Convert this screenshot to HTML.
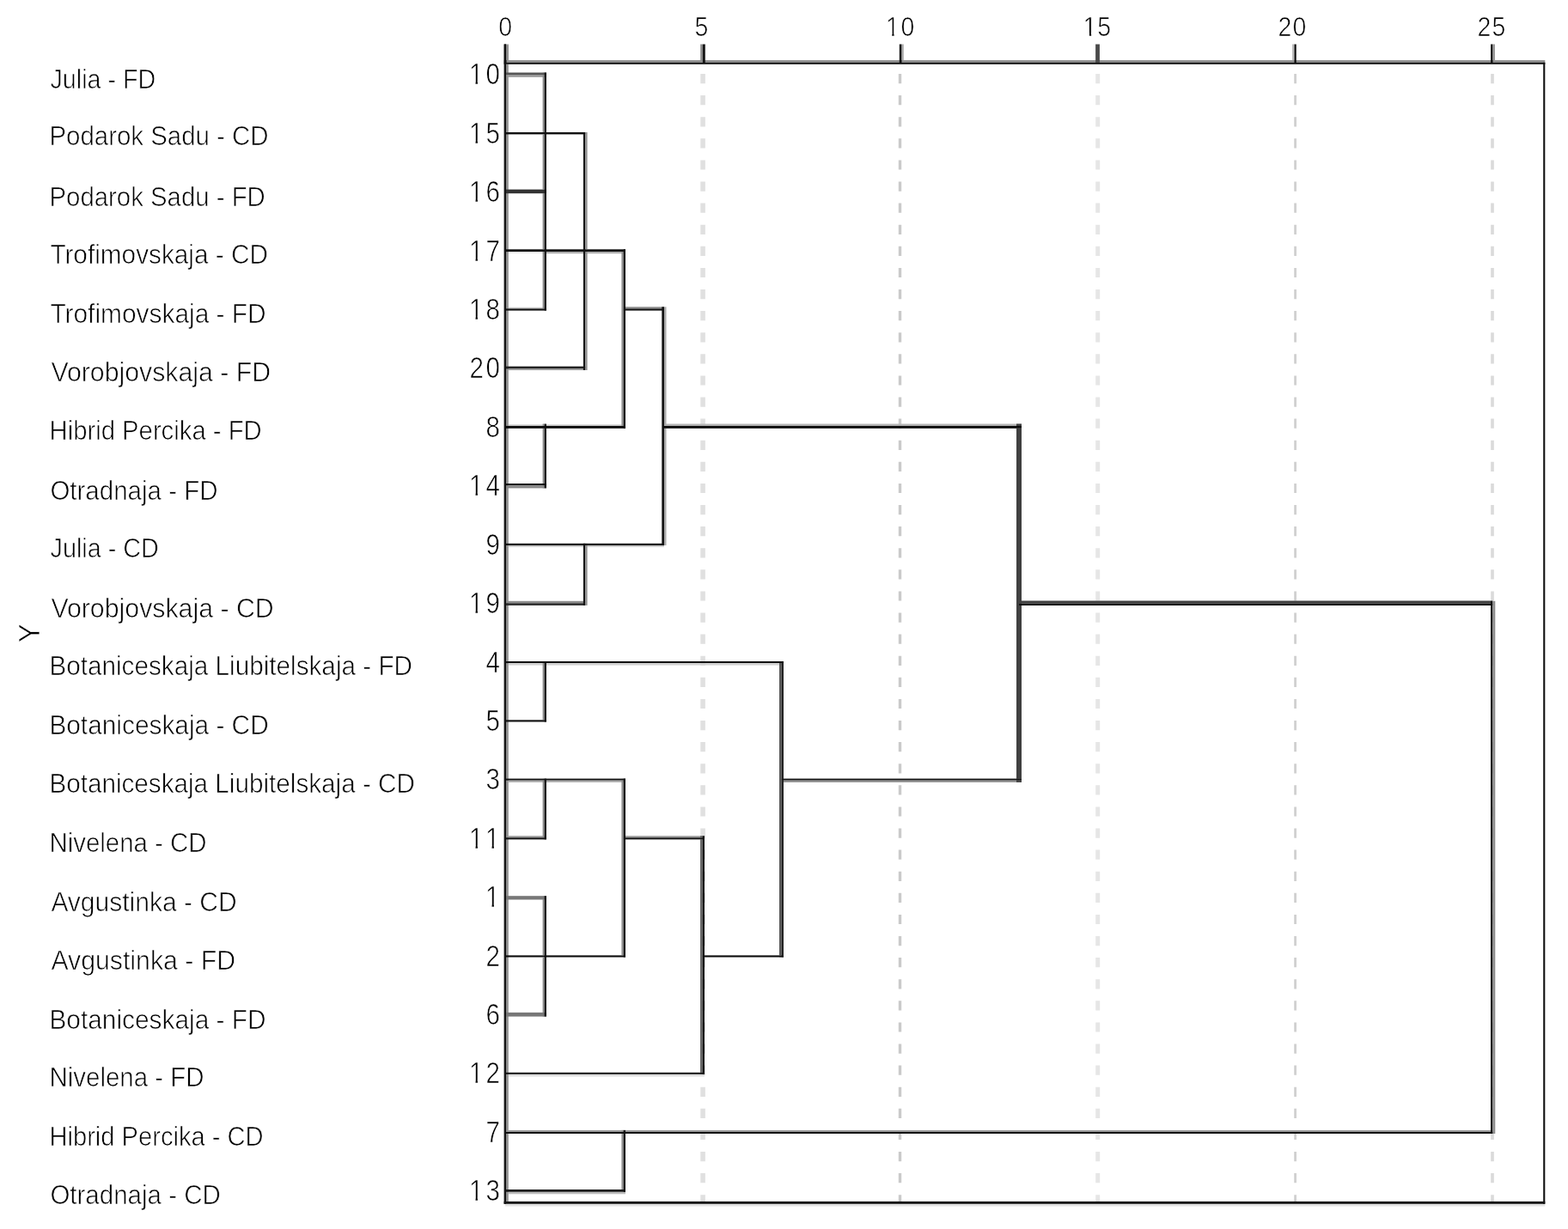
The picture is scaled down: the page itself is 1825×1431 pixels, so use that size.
<!DOCTYPE html><html><head><meta charset="utf-8"><title>Dendrogram</title><style>html,body{margin:0;padding:0;background:#fff;overflow:hidden}svg{display:block}g.d rect{mix-blend-mode:darken}text{font-family:"Liberation Sans",Arial,sans-serif;fill:#000;stroke:#fff;stroke-width:0.7px}</style></head><body>
<svg width="1825" height="1431" viewBox="0 0 1825 1431">
<rect width="1825" height="1431" fill="#fff"/>
<defs><clipPath id="c0" clipPathUnits="userSpaceOnUse"><rect x="1086.50" y="-61.20" width="79.96" height="57.68"/><rect x="1116.45" y="-6.12" width="2.39" height="12.24"/><rect x="1126.68" y="-6.12" width="18.36" height="12.24"/></clipPath><clipPath id="c1" clipPathUnits="userSpaceOnUse"><rect x="1333.38" y="-61.20" width="79.10" height="57.68"/><rect x="1363.34" y="-6.12" width="2.39" height="12.24"/><rect x="1372.70" y="-6.12" width="18.36" height="12.24"/></clipPath><clipPath id="c2" clipPathUnits="userSpaceOnUse"><rect x="610.12" y="-68.60" width="91.39" height="64.66"/><rect x="643.70" y="-6.86" width="2.68" height="13.72"/><rect x="656.92" y="-6.86" width="20.58" height="13.72"/></clipPath><clipPath id="c3" clipPathUnits="userSpaceOnUse"><rect x="610.12" y="-68.60" width="91.39" height="64.66"/><rect x="643.70" y="-6.86" width="2.68" height="13.72"/><rect x="656.92" y="-6.86" width="20.58" height="13.72"/></clipPath><clipPath id="c4" clipPathUnits="userSpaceOnUse"><rect x="610.12" y="-68.60" width="91.39" height="64.66"/><rect x="643.70" y="-6.86" width="2.68" height="13.72"/><rect x="656.92" y="-6.86" width="20.58" height="13.72"/></clipPath><clipPath id="c5" clipPathUnits="userSpaceOnUse"><rect x="610.12" y="-68.60" width="91.39" height="64.66"/><rect x="643.70" y="-6.86" width="2.68" height="13.72"/><rect x="656.92" y="-6.86" width="20.58" height="13.72"/></clipPath><clipPath id="c6" clipPathUnits="userSpaceOnUse"><rect x="610.12" y="-68.60" width="91.39" height="64.66"/><rect x="643.70" y="-6.86" width="2.68" height="13.72"/><rect x="656.92" y="-6.86" width="20.58" height="13.72"/></clipPath><clipPath id="c7" clipPathUnits="userSpaceOnUse"><rect x="610.12" y="-68.60" width="91.39" height="64.66"/><rect x="643.70" y="-6.86" width="2.68" height="13.72"/><rect x="656.92" y="-6.86" width="20.58" height="13.72"/></clipPath><clipPath id="c8" clipPathUnits="userSpaceOnUse"><rect x="610.12" y="-68.60" width="91.39" height="64.66"/><rect x="643.70" y="-6.86" width="2.68" height="13.72"/><rect x="656.92" y="-6.86" width="20.58" height="13.72"/></clipPath><clipPath id="c9" clipPathUnits="userSpaceOnUse"><rect x="610.12" y="-68.60" width="90.69" height="64.66"/><rect x="643.70" y="-6.86" width="2.68" height="13.72"/><rect x="665.79" y="-6.86" width="2.68" height="13.72"/></clipPath><clipPath id="c10" clipPathUnits="userSpaceOnUse"><rect x="632.21" y="-68.60" width="68.60" height="64.66"/><rect x="665.79" y="-6.86" width="2.68" height="13.72"/></clipPath><clipPath id="c11" clipPathUnits="userSpaceOnUse"><rect x="610.12" y="-68.60" width="91.39" height="64.66"/><rect x="643.70" y="-6.86" width="2.68" height="13.72"/><rect x="656.92" y="-6.86" width="20.58" height="13.72"/></clipPath><clipPath id="c12" clipPathUnits="userSpaceOnUse"><rect x="610.12" y="-68.60" width="91.39" height="64.66"/><rect x="643.70" y="-6.86" width="2.68" height="13.72"/><rect x="656.92" y="-6.86" width="20.58" height="13.72"/></clipPath></defs>
<line x1="818.10" y1="86.0" x2="818.10" y2="1399" stroke="#e0e0e0" stroke-width="5.60" stroke-dasharray="11.2 13.9"/>
<line x1="1047.50" y1="86.0" x2="1047.50" y2="1399" stroke="#cacaca" stroke-width="3.40" stroke-dasharray="11.2 13.9"/>
<line x1="1277.70" y1="86.0" x2="1277.70" y2="1399" stroke="#e6e6e6" stroke-width="5.00" stroke-dasharray="11.2 13.9"/>
<line x1="1507.60" y1="86.0" x2="1507.60" y2="1399" stroke="#d0d0d0" stroke-width="2.80" stroke-dasharray="11.2 13.9"/>
<line x1="1737.00" y1="86.0" x2="1737.00" y2="1399" stroke="#dadada" stroke-width="3.60" stroke-dasharray="11.2 13.9"/>
<g class="d">
<rect x="586.60" y="70.10" width="1211.70" height="2.70" fill="#8c8c8c"/>
<rect x="586.60" y="72.80" width="1211.70" height="2.00" fill="#111"/>
<rect x="1796.20" y="72.80" width="2.10" height="1329.00" fill="#111"/>
<rect x="586.60" y="1398.90" width="1211.70" height="2.90" fill="#151515"/>
<rect x="588.00" y="1401.80" width="1210.30" height="2.70" fill="#e2e2e2"/>
<rect x="586.80" y="51.50" width="2.70" height="21.50" fill="#111"/>
<rect x="589.50" y="51.50" width="2.50" height="21.50" fill="#999"/>
<rect x="815.20" y="51.50" width="2.70" height="21.50" fill="#8a8a8a"/>
<rect x="817.90" y="51.50" width="2.90" height="21.50" fill="#151515"/>
<rect x="1046.80" y="51.50" width="2.70" height="21.50" fill="#111"/>
<rect x="1049.50" y="51.50" width="2.30" height="21.50" fill="#aaa"/>
<rect x="1275.10" y="51.50" width="4.80" height="21.50" fill="#4a4a4a"/>
<rect x="1504.00" y="51.50" width="2.50" height="21.50" fill="#bbb"/>
<rect x="1506.50" y="51.50" width="2.20" height="21.50" fill="#0a0a0a"/>
<rect x="1735.10" y="51.50" width="2.40" height="21.50" fill="#111"/>
<rect x="1737.50" y="51.50" width="2.50" height="21.50" fill="#999"/>
<rect x="586.60" y="51.50" width="2.40" height="1350.30" fill="#151515"/>
<rect x="589.00" y="53.00" width="2.80" height="1348.80" fill="#8f8f8f"/>
<rect x="588.50" y="84.50" width="47.40" height="2.50" fill="#555"/>
<rect x="588.50" y="87.00" width="47.40" height="2.80" fill="#999"/>
<rect x="588.50" y="154.00" width="92.80" height="2.40" fill="#111"/>
<rect x="588.50" y="220.60" width="47.40" height="4.60" fill="#333"/>
<rect x="588.50" y="290.30" width="47.40" height="2.80" fill="#111"/>
<rect x="588.50" y="293.10" width="47.40" height="1.50" fill="#ddd"/>
<rect x="633.98" y="290.30" width="94.02" height="2.80" fill="#111"/>
<rect x="633.98" y="293.10" width="94.02" height="2.10" fill="#aaa"/>
<rect x="588.50" y="357.80" width="47.40" height="1.60" fill="#c8c8c8"/>
<rect x="588.50" y="359.40" width="47.40" height="2.20" fill="#111"/>
<rect x="725.94" y="357.30" width="47.06" height="2.10" fill="#8a8a8a"/>
<rect x="725.94" y="359.40" width="47.06" height="2.20" fill="#111"/>
<rect x="588.50" y="426.60" width="92.80" height="2.80" fill="#222"/>
<rect x="588.50" y="429.40" width="92.80" height="1.60" fill="#999"/>
<rect x="588.50" y="494.20" width="139.50" height="1.70" fill="#d0d0d0"/>
<rect x="588.50" y="495.90" width="139.50" height="2.90" fill="#0a0a0a"/>
<rect x="771.92" y="493.50" width="417.08" height="2.40" fill="#b4b4b4"/>
<rect x="771.92" y="495.90" width="417.08" height="2.90" fill="#0a0a0a"/>
<rect x="588.50" y="563.00" width="47.40" height="2.20" fill="#111"/>
<rect x="588.50" y="565.20" width="47.40" height="3.20" fill="#888"/>
<rect x="588.50" y="632.80" width="184.50" height="2.20" fill="#111"/>
<rect x="588.50" y="635.00" width="184.50" height="1.80" fill="#c8c8c8"/>
<rect x="588.50" y="699.80" width="92.80" height="2.50" fill="#8c8c8c"/>
<rect x="588.50" y="702.30" width="92.80" height="2.60" fill="#2a2a2a"/>
<rect x="1185.74" y="699.50" width="551.56" height="3.10" fill="#404040"/>
<rect x="1185.74" y="702.60" width="551.56" height="2.40" fill="#111"/>
<rect x="588.50" y="770.00" width="323.50" height="2.10" fill="#111"/>
<rect x="588.50" y="772.10" width="323.50" height="2.50" fill="#cfcfcf"/>
<rect x="588.50" y="838.30" width="47.40" height="2.20" fill="#151515"/>
<rect x="588.50" y="906.60" width="139.50" height="2.00" fill="#111"/>
<rect x="588.50" y="908.60" width="139.50" height="2.20" fill="#aaa"/>
<rect x="909.86" y="906.60" width="279.14" height="2.00" fill="#111"/>
<rect x="909.86" y="908.60" width="279.14" height="2.20" fill="#8c8c8c"/>
<rect x="588.50" y="973.30" width="47.40" height="2.00" fill="#999"/>
<rect x="588.50" y="975.30" width="47.40" height="2.10" fill="#111"/>
<rect x="725.94" y="973.30" width="94.06" height="2.00" fill="#999"/>
<rect x="725.94" y="975.30" width="94.06" height="2.10" fill="#111"/>
<rect x="588.50" y="1043.20" width="47.40" height="4.30" fill="#777"/>
<rect x="588.50" y="1112.40" width="139.50" height="2.10" fill="#0a0a0a"/>
<rect x="817.90" y="1112.40" width="94.10" height="2.10" fill="#0a0a0a"/>
<rect x="588.50" y="1178.90" width="47.40" height="4.70" fill="#777"/>
<rect x="588.50" y="1248.80" width="231.50" height="2.00" fill="#111"/>
<rect x="588.50" y="1250.80" width="231.50" height="2.60" fill="#ddd"/>
<rect x="588.50" y="1315.90" width="1148.80" height="2.10" fill="#999"/>
<rect x="588.50" y="1318.00" width="1148.80" height="2.00" fill="#111"/>
<rect x="588.50" y="1385.00" width="139.50" height="2.80" fill="#1c1c1c"/>
<rect x="588.50" y="1387.80" width="139.50" height="2.50" fill="#bbb"/>
<rect x="631.60" y="84.50" width="2.00" height="277.10" fill="#8a8a8a"/>
<rect x="633.60" y="84.50" width="2.30" height="277.10" fill="#151515"/>
<rect x="678.90" y="154.00" width="2.40" height="277.00" fill="#151515"/>
<rect x="681.30" y="154.00" width="2.30" height="277.00" fill="#8f8f8f"/>
<rect x="723.40" y="290.30" width="2.20" height="208.50" fill="#8f8f8f"/>
<rect x="725.60" y="290.30" width="2.40" height="208.50" fill="#151515"/>
<rect x="770.30" y="357.30" width="2.70" height="277.70" fill="#151515"/>
<rect x="773.00" y="357.30" width="2.50" height="277.70" fill="#aaa"/>
<rect x="631.60" y="493.50" width="2.00" height="74.90" fill="#8a8a8a"/>
<rect x="633.60" y="493.50" width="2.30" height="74.90" fill="#151515"/>
<rect x="678.90" y="632.80" width="2.40" height="72.10" fill="#151515"/>
<rect x="681.30" y="632.80" width="2.30" height="72.10" fill="#8f8f8f"/>
<rect x="1183.00" y="493.50" width="6.00" height="417.30" fill="#404040"/>
<rect x="1735.00" y="699.80" width="2.30" height="620.20" fill="#111"/>
<rect x="1737.30" y="699.80" width="3.00" height="620.20" fill="#8f8f8f"/>
<rect x="631.60" y="770.00" width="2.00" height="70.50" fill="#8a8a8a"/>
<rect x="633.60" y="770.00" width="2.30" height="70.50" fill="#151515"/>
<rect x="907.00" y="770.00" width="2.50" height="344.50" fill="#555"/>
<rect x="909.50" y="770.00" width="2.50" height="344.50" fill="#222"/>
<rect x="631.60" y="906.60" width="2.00" height="70.80" fill="#8a8a8a"/>
<rect x="633.60" y="906.60" width="2.30" height="70.80" fill="#151515"/>
<rect x="723.40" y="906.60" width="2.20" height="207.90" fill="#8f8f8f"/>
<rect x="725.60" y="906.60" width="2.40" height="207.90" fill="#151515"/>
<rect x="631.60" y="1043.20" width="2.00" height="140.40" fill="#8a8a8a"/>
<rect x="633.60" y="1043.20" width="2.30" height="140.40" fill="#151515"/>
<rect x="815.00" y="973.30" width="2.60" height="277.50" fill="#666"/>
<rect x="817.60" y="973.30" width="2.40" height="277.50" fill="#151515"/>
<rect x="723.40" y="1315.90" width="2.20" height="71.90" fill="#8f8f8f"/>
<rect x="725.60" y="1315.90" width="2.40" height="71.90" fill="#151515"/>
</g>
<text x="58.5" y="103.45" font-size="31.5" textLength="122.8" lengthAdjust="spacingAndGlyphs">Julia - FD</text>
<text x="57.5" y="169.37" font-size="31.5" textLength="255.0" lengthAdjust="spacingAndGlyphs">Podarok Sadu - CD</text>
<text x="57.5" y="239.79" font-size="31.5" textLength="251.3" lengthAdjust="spacingAndGlyphs">Podarok Sadu - FD</text>
<text x="58.4" y="307.01" font-size="31.5" textLength="253.5" lengthAdjust="spacingAndGlyphs">Trofimovskaja - CD</text>
<text x="58.4" y="376.13" font-size="31.5" textLength="251.3" lengthAdjust="spacingAndGlyphs">Trofimovskaja - FD</text>
<text x="59.4" y="443.90" font-size="31.5" textLength="255.8" lengthAdjust="spacingAndGlyphs">Vorobjovskaja - FD</text>
<text x="57.5" y="512.47" font-size="31.5" textLength="247.2" lengthAdjust="spacingAndGlyphs">Hibrid Percika - FD</text>
<text x="58.4" y="581.94" font-size="31.5" textLength="195.1" lengthAdjust="spacingAndGlyphs">Otradnaja - FD</text>
<text x="58.5" y="648.76" font-size="31.5" textLength="126.4" lengthAdjust="spacingAndGlyphs">Julia - CD</text>
<text x="59.4" y="718.78" font-size="31.5" textLength="259.3" lengthAdjust="spacingAndGlyphs">Vorobjovskaja - CD</text>
<text x="57.4" y="785.95" font-size="31.5" textLength="422.6" lengthAdjust="spacingAndGlyphs">Botaniceskaja Liubitelskaja - FD</text>
<text x="57.4" y="855.17" font-size="31.5" textLength="255.3" lengthAdjust="spacingAndGlyphs">Botaniceskaja - CD</text>
<text x="57.4" y="922.84" font-size="31.5" textLength="425.5" lengthAdjust="spacingAndGlyphs">Botaniceskaja Liubitelskaja - CD</text>
<text x="57.5" y="991.81" font-size="31.5" textLength="183.0" lengthAdjust="spacingAndGlyphs">Nivelena - CD</text>
<text x="59.4" y="1061.43" font-size="31.5" textLength="216.3" lengthAdjust="spacingAndGlyphs">Avgustinka - CD</text>
<text x="59.4" y="1129.10" font-size="31.5" textLength="214.7" lengthAdjust="spacingAndGlyphs">Avgustinka - FD</text>
<text x="57.4" y="1198.27" font-size="31.5" textLength="252.2" lengthAdjust="spacingAndGlyphs">Botaniceskaja - FD</text>
<text x="57.5" y="1265.29" font-size="31.5" textLength="180.0" lengthAdjust="spacingAndGlyphs">Nivelena - FD</text>
<text x="57.5" y="1334.46" font-size="31.5" textLength="249.1" lengthAdjust="spacingAndGlyphs">Hibrid Percika - CD</text>
<text x="58.4" y="1401.98" font-size="31.5" textLength="198.4" lengthAdjust="spacingAndGlyphs">Otradnaja - CD</text>
<text font-size="33" text-anchor="middle" transform="translate(45.6,737.3) rotate(-90) scale(1,1.08)">Y</text>
<text transform="translate(0,41.60) scale(0.93,1)" x="632.37" y="0" font-size="30.6" text-anchor="middle">0</text>
<text transform="translate(0,41.60) scale(0.93,1)" x="877.90" y="0" font-size="30.6" text-anchor="middle">5</text>
<text transform="translate(0,41.60) scale(0.93,1)" x="1117.10 1135.86" y="0" font-size="30.6" text-anchor="middle" clip-path="url(#c0)">10</text>
<text transform="translate(0,41.60) scale(0.93,1)" x="1363.98 1381.88" y="0" font-size="30.6" text-anchor="middle" clip-path="url(#c1)">15</text>
<text transform="translate(0,41.60) scale(0.93,1)" x="1608.01 1626.34" y="0" font-size="30.6" text-anchor="middle">20</text>
<text transform="translate(0,41.60) scale(0.93,1)" x="1857.53 1875.81" y="0" font-size="30.6" text-anchor="middle">25</text>
<text transform="translate(0,98.30) scale(0.86,1)" x="644.42 667.21" y="0" font-size="34.3" text-anchor="middle" clip-path="url(#c2)">10</text>
<text transform="translate(0,166.72) scale(0.86,1)" x="644.42 667.21" y="0" font-size="34.3" text-anchor="middle" clip-path="url(#c3)">15</text>
<text transform="translate(0,235.14) scale(0.86,1)" x="644.42 667.21" y="0" font-size="34.3" text-anchor="middle" clip-path="url(#c4)">16</text>
<text transform="translate(0,303.56) scale(0.86,1)" x="644.42 667.21" y="0" font-size="34.3" text-anchor="middle" clip-path="url(#c5)">17</text>
<text transform="translate(0,371.98) scale(0.86,1)" x="644.42 667.21" y="0" font-size="34.3" text-anchor="middle" clip-path="url(#c6)">18</text>
<text transform="translate(0,440.40) scale(0.86,1)" x="645.12 667.21" y="0" font-size="34.3" text-anchor="middle">20</text>
<text transform="translate(0,508.82) scale(0.86,1)" x="667.21" y="0" font-size="34.3" text-anchor="middle">8</text>
<text transform="translate(0,577.24) scale(0.86,1)" x="644.42 667.21" y="0" font-size="34.3" text-anchor="middle" clip-path="url(#c7)">14</text>
<text transform="translate(0,645.66) scale(0.86,1)" x="667.21" y="0" font-size="34.3" text-anchor="middle">9</text>
<text transform="translate(0,714.08) scale(0.86,1)" x="644.42 667.21" y="0" font-size="34.3" text-anchor="middle" clip-path="url(#c8)">19</text>
<text transform="translate(0,782.50) scale(0.86,1)" x="667.21" y="0" font-size="34.3" text-anchor="middle">4</text>
<text transform="translate(0,850.92) scale(0.86,1)" x="667.21" y="0" font-size="34.3" text-anchor="middle">5</text>
<text transform="translate(0,919.34) scale(0.86,1)" x="667.21" y="0" font-size="34.3" text-anchor="middle">3</text>
<text transform="translate(0,987.76) scale(0.86,1)" x="644.42 666.51" y="0" font-size="34.3" text-anchor="middle" clip-path="url(#c9)">11</text>
<text transform="translate(0,1056.18) scale(0.86,1)" x="666.51" y="0" font-size="34.3" text-anchor="middle" clip-path="url(#c10)">1</text>
<text transform="translate(0,1124.60) scale(0.86,1)" x="667.21" y="0" font-size="34.3" text-anchor="middle">2</text>
<text transform="translate(0,1193.02) scale(0.86,1)" x="667.21" y="0" font-size="34.3" text-anchor="middle">6</text>
<text transform="translate(0,1261.44) scale(0.86,1)" x="644.42 667.21" y="0" font-size="34.3" text-anchor="middle" clip-path="url(#c11)">12</text>
<text transform="translate(0,1329.86) scale(0.86,1)" x="667.21" y="0" font-size="34.3" text-anchor="middle">7</text>
<text transform="translate(0,1398.28) scale(0.86,1)" x="644.42 667.21" y="0" font-size="34.3" text-anchor="middle" clip-path="url(#c12)">13</text>
</svg></body></html>
